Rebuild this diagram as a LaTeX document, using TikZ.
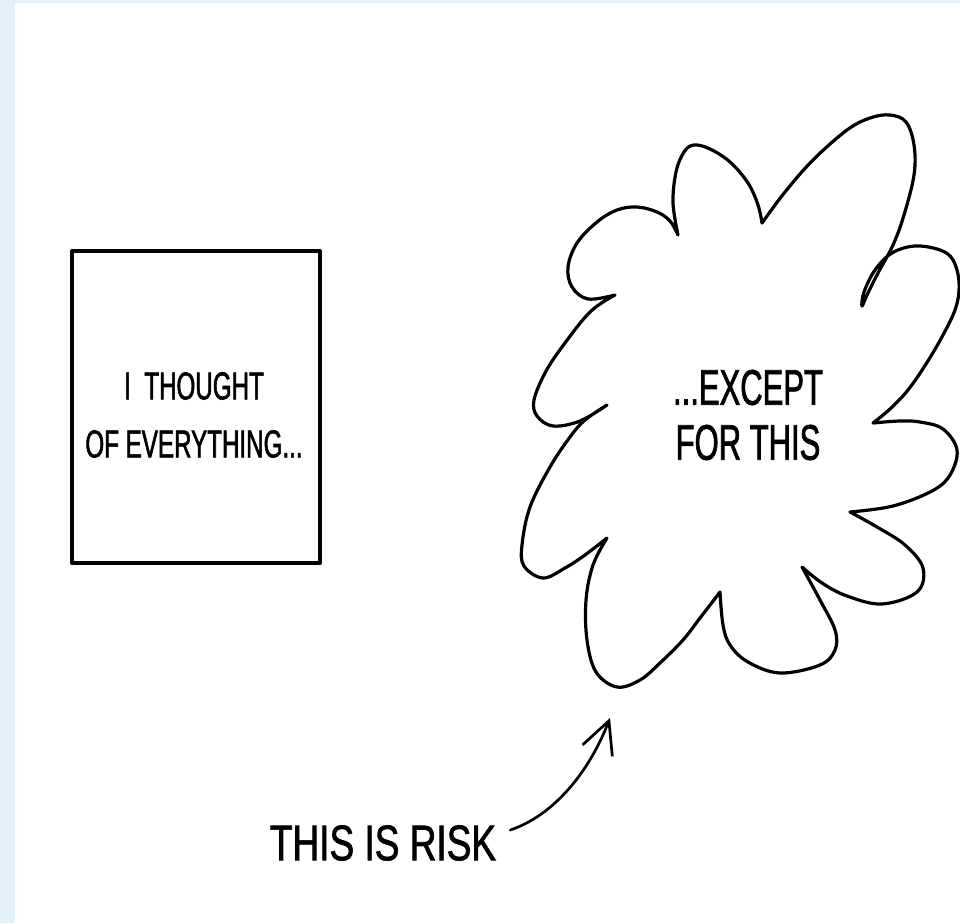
\documentclass[tikz,border=0pt]{standalone}
\usepackage{fontspec}
\newfontfamily\handfont[FakeStretch=0.62,FakeBold=1.4]{Liberation Sans}
\newfontfamily\riskfont[FakeStretch=0.74,FakeBold=1.4]{Liberation Sans}
\usetikzlibrary{arrows.meta,calc}
\definecolor{pageblue}{RGB}{227,240,252}
\begin{document}
\begin{tikzpicture}[x=1pt,y=-1pt,
  boxline/.style={draw=black,line width=3.9pt,line join=round,inner sep=0pt},
  cloudline/.style={draw=black,line width=3.2pt,line join=round,line cap=round},
  hand/.style={inner sep=0pt,align=center,text=black},
  riskarrow/.style={draw=black,line width=2.7pt,line cap=round,
    -{Straight Barb[length=32pt,width=32pt]}}
]
\useasboundingbox (0,0) rectangle (960,923);
\fill[pageblue] (0,0) rectangle (960,923);
\fill[white] (15,3) rectangle (960,923);

% box
\node[boxline, minimum width=248pt, minimum height=312pt] (box) at (196,407) {};
\node[hand, font=\handfont\fontsize{39}{58}\selectfont] (boxtext) at (194,415)
  {I\ \ THOUGHT\\OF EVERYTHING...};

% cloud
\draw[cloudline]
  plot[smooth,tension=0.6] coordinates {(678,235) (673,203) (676,172) (684,152) (694,145) (710,149) (730,162) (748,183) (758,205) (762,223)}
  -- plot[smooth,tension=0.6] coordinates {(762,223) (785,192) (813,160) (847,130) (870,118) (890,115) (906,122) (914,145) (914,175) (904,215) (893,245) (878,273) (867,295) (862,306) (864,292) (875,270) (892,253) (915,246) (940,250) (953,260) (959,282) (956,307) (943,335) (926,364) (908,390) (890,409) (873,423)}
  -- plot[smooth,tension=0.6] coordinates {(873,423) (900,421) (920,422) (943,429) (957,450) (950,475) (932,491) (893,506) (850,512)}
  -- plot[smooth,tension=0.6] coordinates {(850,512) (877,527) (905,545) (923,568) (917,592) (882,604) (847,596) (822,583) (802,567)}
  -- plot[smooth,tension=0.6] coordinates {(802,567) (820,600) (835,630) (835,650) (820,665) (780,673) (748,662) (730,645) (723,625) (720,592)}
  -- plot[smooth,tension=0.6] coordinates {(720,592) (700,618) (683,640) (660,663) (640,680) (617,687) (596,672) (587,640) (586,600) (593,565) (607,538)}
  -- plot[smooth,tension=0.6] coordinates {(607,538) (585,555) (565,568) (543,578) (524,566) (522,545) (530,507) (550,467) (570,437) (585,420) (607,405)}
  -- plot[smooth,tension=0.6] coordinates {(607,405) (580,421) (553,426) (537,416) (534,400) (545,373) (562,347) (590,312) (615,295)}
  -- plot[smooth,tension=0.6] coordinates {(615,295) (588,299) (572,287) (568,267) (577,243) (597,222) (617,210) (637,207) (657,212) (670,221) (678,235)}
  -- cycle;
\node[hand, font=\handfont\fontsize{50}{55}\selectfont] (cloudtext) at (748,415)
  {...EXCEPT\\FOR THIS};

% risk label and arrow
\node[hand, font=\riskfont\fontsize{50}{55}\selectfont] (risk) at (383,843) {THIS IS RISK};
\coordinate (risktip) at (610,718);
\draw[riskarrow] ([shift={(14,-13)}]risk.east) .. controls (555,815) and (590,770) .. (risktip);
\end{tikzpicture}
\end{document}
